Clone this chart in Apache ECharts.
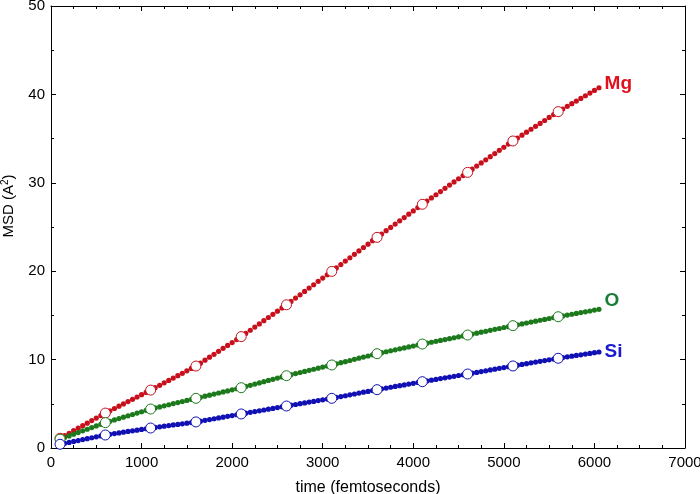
<!DOCTYPE html>
<html>
<head>
<meta charset="utf-8">
<script src="https://cdn.jsdelivr.net/npm/echarts@6/dist/echarts.min.js"></script>
<style>html,body{margin:0;padding:0;background:#fff}#c{width:700px;height:494px}</style>
</head>
<body>
<div id="c"></div>
<script>
// time axis: samples every 50 fs from 100 to 6050
const tStart = 100, tStep = 50;
const mgMSD = [1.10,1.39,1.67,1.96,2.24,2.53,2.81,3.10,3.38,3.67,
3.95,4.21,4.47,4.73,4.99,5.25,5.51,5.77,6.03,6.29,
6.55,6.82,7.09,7.37,7.64,7.91,8.18,8.45,8.73,9.00,
9.27,9.60,9.94,10.27,10.60,10.94,11.27,11.60,11.93,12.27,
12.60,12.96,13.32,13.68,14.04,14.40,14.76,15.12,15.48,15.84,
16.20,16.58,16.96,17.33,17.71,18.09,18.47,18.85,19.22,19.60,
19.98,20.37,20.75,21.14,21.52,21.91,22.29,22.68,23.06,23.45,
23.83,24.20,24.58,24.95,25.33,25.70,26.07,26.45,26.82,27.20,
27.57,27.93,28.29,28.65,29.01,29.38,29.74,30.10,30.46,30.82,
31.18,31.54,31.89,32.25,32.60,32.96,33.31,33.67,34.02,34.38,
34.73,35.06,35.39,35.73,36.06,36.39,36.72,37.05,37.39,37.72,
38.05,38.35,38.65,38.95,39.25,39.55,39.85,40.15,40.45,40.75];
const oMSD = [1.00,1.19,1.37,1.56,1.75,1.94,2.12,2.31,2.50,2.68,
2.87,3.02,3.18,3.33,3.49,3.64,3.79,3.95,4.10,4.26,
4.41,4.53,4.65,4.77,4.89,5.02,5.14,5.26,5.38,5.50,
5.62,5.74,5.86,5.98,6.10,6.22,6.34,6.46,6.58,6.70,
6.82,6.96,7.09,7.23,7.36,7.50,7.64,7.77,7.91,8.04,
8.18,8.30,8.42,8.54,8.66,8.79,8.91,9.03,9.15,9.27,
9.39,9.52,9.65,9.77,9.90,10.03,10.16,10.29,10.41,10.54,
10.67,10.78,10.89,11.00,11.11,11.22,11.32,11.43,11.54,11.65,
11.76,11.86,11.96,12.07,12.17,12.27,12.37,12.47,12.58,12.68,
12.78,12.89,12.99,13.10,13.20,13.31,13.42,13.52,13.63,13.73,
13.84,13.94,14.04,14.14,14.24,14.35,14.45,14.55,14.65,14.75,
14.85,14.94,15.04,15.13,15.22,15.32,15.41,15.50,15.60,15.69];
const siMSD = [0.42,0.53,0.63,0.74,0.84,0.95,1.05,1.16,1.26,1.37,
1.47,1.55,1.63,1.71,1.79,1.87,1.94,2.02,2.10,2.18,
2.26,2.33,2.40,2.47,2.54,2.61,2.67,2.74,2.81,2.88,
2.95,3.04,3.13,3.22,3.31,3.40,3.49,3.58,3.67,3.76,
3.85,3.94,4.03,4.12,4.21,4.30,4.39,4.48,4.57,4.66,
4.75,4.84,4.92,5.01,5.10,5.19,5.27,5.36,5.45,5.53,
5.62,5.72,5.82,5.91,6.01,6.11,6.21,6.31,6.40,6.50,
6.60,6.69,6.78,6.87,6.96,7.05,7.14,7.23,7.32,7.41,
7.50,7.59,7.67,7.76,7.85,7.94,8.02,8.11,8.20,8.28,
8.37,8.46,8.55,8.64,8.73,8.83,8.92,9.01,9.10,9.19,
9.28,9.37,9.45,9.54,9.63,9.72,9.80,9.89,9.98,10.06,
10.15,10.23,10.31,10.39,10.47,10.54,10.62,10.70,10.78,10.86];
const seriesNames = ['Mg', 'O', 'Si'];
const circleEvery = 10; // open circles every 500 fs
const xTicks = [0,1000,2000,3000,4000,5000,6000,7000];
const yTicks = [0,10,20,30,40,50];

const FONT = '"Liberation Sans", Arial, Helvetica, sans-serif';
const dotColors = ['#c8101c', '#1c7a1c', '#1010b4'];
const textColors = ['#e0101c', '#1a7e3a', '#1a1ad0'];
const labelOffsets = [[0,-4],[0,-9],[0,0]];
const allData = [mgMSD, oMSD, siMSD];

function pts(arr){ return arr.map((v,i)=>[tStart+i*tStep, v]); }

const series = [];
allData.forEach((arr, k) => {
  const p = pts(arr);
  const data = p.map((d,i)=> i===p.length-1 ? {value:d, label:{show:true, position:'right', distance:3, offset:labelOffsets[k], formatter:seriesNames[k], color:textColors[k], fontSize:19, fontWeight:'bold', fontFamily:FONT}} : d);
  series.push({type:'scatter', name:seriesNames[k], data:data, symbol:'circle', symbolSize:5.2, itemStyle:{color:dotColors[k], opacity:1}, z:2, silent:true});
  series.push({type:'scatter', name:seriesNames[k]+'-o', data:p.filter((d,i)=>i%circleEvery===0), symbol:'circle', symbolSize:10, itemStyle:{color:'#fff', borderColor:dotColors[k], borderWidth:1, opacity:1}, z:3, silent:true});
});

const minorX = {show:true, splitNumber:4, length:3, lineStyle:{color:'#000'}};
const minorY = {show:true, splitNumber:2, length:3, lineStyle:{color:'#000'}};
const axisCommon = {
  axisLine:{show:true, onZero:false, lineStyle:{color:'#000', width:1}},
  axisTick:{show:true, inside:true, length:5, lineStyle:{color:'#000'}},
  splitLine:{show:false}
};

const chart = echarts.init(document.getElementById('c'), null, {renderer:'canvas'});
chart.setOption({
  animation:false,
  backgroundColor:'#fff',
  grid:{left:51, right:15, top:6, bottom:46, containLabel:false, outerBoundsMode:'none'},
  xAxis:[
    Object.assign({type:'value', min:xTicks[0], max:xTicks[xTicks.length-1], interval:1000, position:'bottom',
      name:'time (femtoseconds)', nameLocation:'middle', nameGap:32,
      nameTextStyle:{fontFamily:FONT, fontSize:16, color:'#000'},
      axisLabel:{fontFamily:FONT, fontSize:15, color:'#000', margin:7, formatter:v=>String(v)}, minorTick:minorX}, axisCommon),
    Object.assign({type:'value', min:xTicks[0], max:xTicks[xTicks.length-1], interval:1000, position:'top', axisLabel:{show:false}, minorTick:minorX}, axisCommon)
  ],
  yAxis:[
    Object.assign({type:'value', min:yTicks[0], max:yTicks[yTicks.length-1], interval:10, position:'left',
      name:'{n|MSD (A}{sup|2}{n|)}', nameLocation:'middle', nameGap:33, nameRotate:90,
      nameTextStyle:{fontFamily:FONT, fontSize:15, color:'#000', padding:[0,0,0,42],
        rich:{n:{fontFamily:FONT, fontSize:15, color:'#000'}, sup:{fontFamily:FONT, fontSize:10, color:'#000', verticalAlign:'top', padding:[0,0,8,0]}}},
      axisLabel:{fontFamily:FONT, fontSize:15, color:'#000', margin:6, formatter:v=>String(v)}, minorTick:minorY}, axisCommon),
    Object.assign({type:'value', min:yTicks[0], max:yTicks[yTicks.length-1], interval:10, position:'right', axisLabel:{show:false}, minorTick:minorY}, axisCommon)
  ],
  series: series
});
</script>
</body>
</html>
